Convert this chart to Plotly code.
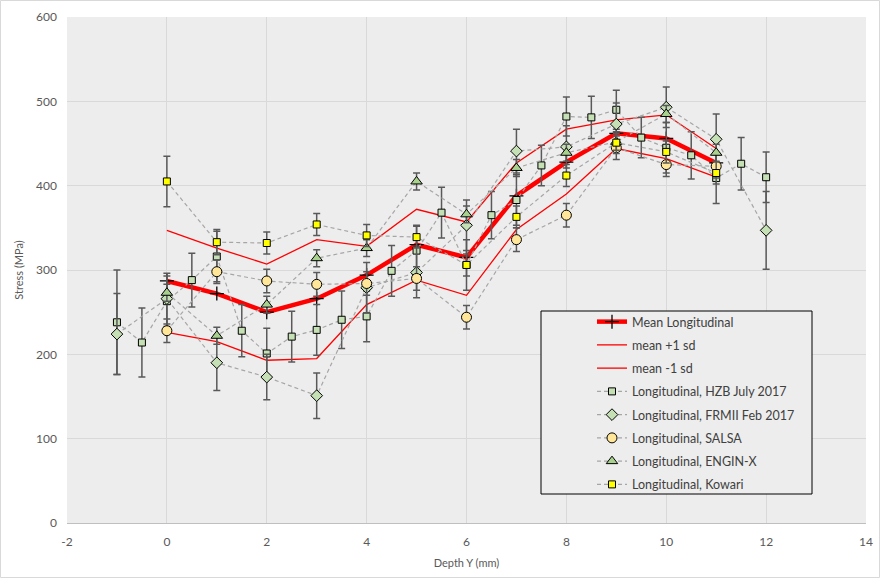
import plotly.graph_objects as go

# ---- data ----
depth_mean = [0, 1, 2, 3, 4, 5, 6, 7, 8, 9, 10, 11]
mean_long = [287, 272, 250, 266, 294, 330, 315, 388, 428, 462, 456, 427]
mean_plus = [347, 326, 307, 336, 328, 372, 357, 427, 467, 478, 484, 444]
mean_minus = [226, 215, 193, 195, 259, 288, 270, 348, 390, 444, 432, 410]

depth_hzb = [-1, -0.5, 0, 0.5, 1, 1.5, 2, 2.5, 3, 3.5, 4, 4.5, 5, 5.5, 6, 6.5,
             7, 7.5, 8, 8.5, 9, 9.5, 10, 10.5, 11, 11.5, 12]
hzb = [238, 214, 263, 288, 316, 228, 201, 221, 229, 241, 245, 299, 323, 368, 306, 365,
       383, 424, 482, 481, 490, 457, 445, 436, 409, 426, 410]
hzb_err = [62, 41, 30, 32, 30, 31, 30, 30, 30, 34, 30, 30, 30, 30, 30, 28,
           30, 24, 23, 25, 23, 24, 30, 28, 30, 31, 30]

depth_frm = [-1, 0, 1, 2, 3, 4, 5, 6, 7, 8, 9, 10, 11, 12]
frm = [224, 266, 190, 173, 151, 279, 297, 353, 441, 446, 473, 493, 455, 347]
frm_err = [48, 30, 33, 27, 27, 30, 30, 30, 26, 25, 25, 24, 30, 46]

depth_inst = [0, 1, 2, 3, 4, 5, 6, 7, 8, 9, 10, 11]
salsa = [228, 298, 287, 283, 284, 290, 244, 336, 365, 445, 425, 423]
salsa_err = [14] * 12
enginx = [273, 222, 259, 314, 326, 405, 366, 421, 439, 452, 485, 439]
enginx_err = [10] * 12
kowari = [405, 333, 332, 354, 341, 339, 306, 363, 412, 451, 440, 415]
kowari_err = [30, 15, 13, 13, 13, 13, 13, 13, 13, 13, 13, 13]

x_ticks = [-2, 0, 2, 4, 6, 8, 10, 12, 14]
y_ticks = [0, 100, 200, 300, 400, 500, 600]

FONT = "Lato"
W, H = 880, 578
ML, MR, MT, MB = 67, 14, 17, 55
PW, PH = W - ML - MR, H - MT - MB


def px(x):
    return (x - ML) / PW


def py(y):
    return (H - MB - y) / PH


fig = go.Figure()

fig.add_trace(go.Scatter(
    x=depth_mean, y=mean_long, name="Mean Longitudinal", mode="lines+markers",
    line=dict(color="#ff0000", width=4.5),
    marker=dict(symbol="cross-thin", size=10, color="black",
                line=dict(color="black", width=1.3)),
    legendgroup="a"))
fig.add_trace(go.Scatter(
    x=depth_mean, y=mean_plus, name="mean +1 sd", mode="lines",
    line=dict(color="#ff0000", width=1.3), legendgroup="b"))
fig.add_trace(go.Scatter(
    x=depth_mean, y=mean_minus, name="mean -1 sd", mode="lines",
    line=dict(color="#ff0000", width=1.3), legendgroup="c"))

dash_line = dict(color="#a6a6a6", width=1.2, dash="4px,3px")
err_style = dict(type="data", visible=True, color="#595959", thickness=1.5, width=3.5)

series = [
    ("Longitudinal, HZB July 2017", depth_hzb, hzb, hzb_err, "square", 7, "#c5e0b4", "d"),
    ("Longitudinal, FRMII Feb 2017", depth_frm, frm, frm_err, "diamond", 9, "#c5e0b4", "e"),
    ("Longitudinal, SALSA", depth_inst, salsa, salsa_err, "circle", 10, "#ffe699", "f"),
    ("Longitudinal, ENGIN-X", depth_inst, enginx, enginx_err, "triangle-up", 10, "#a9d18e", "g"),
    ("Longitudinal, Kowari", depth_inst, kowari, kowari_err, "square", 7, "#ffff00", "h"),
]
for name, xs, ys, es, sym, size, col, grp in series:
    fig.add_trace(go.Scatter(
        x=xs, y=ys, name=name, mode="lines+markers",
        line=dash_line,
        marker=dict(symbol=sym, size=size, color=col, line=dict(color="black", width=1)),
        error_y=dict(array=es, **err_style),
        legendgroup=grp))

shapes = [
    # outer chart border
    dict(type="rect", xref="paper", yref="paper",
         x0=px(0.5), x1=px(W - 0.5), y0=py(H - 0.5), y1=py(0.5),
         line=dict(color="#d9d9d9", width=1), fillcolor="rgba(0,0,0,0)", layer="below"),
    # legend box
    dict(type="rect", xref="paper", yref="paper",
         x0=px(541), x1=px(812), y0=py(494), y1=py(311),
         line=dict(color="black", width=1), fillcolor="#ededed", layer="above"),
]

fig.update_layout(
    width=W, height=H,
    margin=dict(l=ML, r=MR, t=MT, b=MB, autoexpand=False),
    paper_bgcolor="white", plot_bgcolor="#ededed",
    font=dict(family=FONT, color="#595959", size=12),
    showlegend=True,
    legend=dict(x=px(592), y=py(307), xanchor="left", yanchor="top",
                bgcolor="rgba(0,0,0,0)", borderwidth=0,
                font=dict(family=FONT, size=12.5, color="#404040"),
                tracegroupgap=4, traceorder="grouped", itemwidth=30),
    shapes=shapes,
    xaxis=dict(range=[-2, 14], tickvals=x_ticks, ticktext=[str(v) for v in x_ticks],
               showgrid=True, gridcolor="#d9d9d9", gridwidth=1, zeroline=False,
               showline=True, linecolor="#bfbfbf", linewidth=1, ticks="",
               automargin=False, ticklabelstandoff=8,
               tickfont=dict(size=12, color="#595959"),
               title=dict(text="Depth Y (mm)", font=dict(size=11, color="#595959"), standoff=10)),
    yaxis=dict(range=[0, 600], tickvals=y_ticks, ticktext=[str(v) for v in y_ticks],
               showgrid=True, gridcolor="#d9d9d9", gridwidth=1, zeroline=False,
               showline=False, ticks="", automargin=False, ticklabelstandoff=9,
               tickfont=dict(size=12, color="#595959"),
               title=dict(text="Stress (MPa)", font=dict(size=11, color="#595959"), standoff=10)),
)

fig.write_html("out.html", config={"displayModeBar": False},
               post_script="document.body.style.margin='0';document.body.style.overflow='hidden';")
